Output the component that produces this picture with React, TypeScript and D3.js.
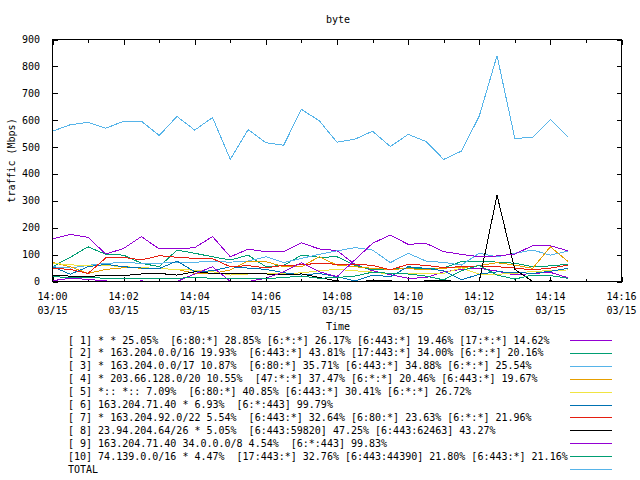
import React from "react";
import * as d3 from "d3";

const TITLE = "byte";
const Y_LABEL = "traffic (Mbps)";
const X_LABEL = "Time";
const DATE_LABEL = "03/15";

// minutes after 14:00
const TIMES = [0, 0.5, 1, 1.5, 2, 2.5, 3, 3.5, 4, 4.5, 5, 5.5, 6, 6.5, 7, 7.5, 8, 8.5, 9, 9.5, 10, 10.5, 11, 11.5, 12, 12.5, 13, 13.5, 14, 14.5];
const X_MAJOR = [0, 2, 4, 6, 8, 10, 12, 14, 16];
const X_MINOR = [1, 3, 5, 7, 9, 11, 13, 15];
const X_TICK_LABELS = ["14:00", "14:02", "14:04", "14:06", "14:08", "14:10", "14:12", "14:14", "14:16"];
const Y_TICKS = [0, 100, 200, 300, 400, 500, 600, 700, 800, 900];

const S1 = [158, 175, 164, 102, 123, 167, 121, 121, 126, 167, 92, 120, 111, 111, 144, 121, 115, 64, 40, 25, 12, 14, 36, 45, 49, 39, 24, 30, 34, 14];
const S2 = [55, 90, 129, 101, 98, 68, 55, 117, 105, 92, 80, 98, 55, 60, 98, 90, 92, 61, 43, 45, 51, 48, 50, 74, 76, 72, 68, 55, 58, 64];
const S3 = [55, 50, 60, 68, 70, 68, 68, 72, 72, 74, 72, 76, 92, 70, 86, 101, 114, 126, 117, 70, 105, 76, 71, 61, 105, 92, 105, 117, 98, 113];
const S4 = [71, 55, 30, 45, 51, 50, 48, 45, 30, 30, 43, 76, 74, 55, 55, 92, 61, 55, 49, 45, 48, 43, 50, 51, 59, 70, 61, 49, 129, 74];
const S5 = [68, 62, 59, 60, 55, 52, 48, 45, 42, 36, 24, 28, 30, 30, 32, 40, 45, 40, 35, 28, 30, 28, 30, 51, 27, 27, 30, 38, 40, 43];
const S6 = [55, 27, 55, 64, 55, 50, 48, 76, 36, 40, 55, 50, 45, 33, 24, 30, 18, 2, 24, 18, 55, 49, 40, 6, 27, 36, 34, 30, 38, 49];
const S7 = [49, 45, 30, 88, 90, 80, 96, 90, 86, 85, 55, 59, 51, 60, 62, 68, 64, 64, 60, 43, 64, 60, 52, 55, 58, 55, 50, 43, 50, 61];
const S8 = [24, 20, 18, 24, 22, 28, 30, 24, 36, 30, 28, 28, 28, 26, 28, 15, 2, 0, 3, 2, 0, 2, 3, 0, 0, 321, 45, 0, 2, 0];
const S9 = [3, 12, 8, 2, 0, 2, 0, 0, 28, 55, 0, 0, 12, 36, 70, 36, 18, 80, 142, 173, 138, 142, 111, 101, 92, 95, 102, 133, 133, 114];
const S10 = [18, 15, 15, 12, 10, 10, 12, 12, 15, 12, 10, 12, 10, 15, 20, 12, 15, 20, 35, 30, 28, 20, 6, 40, 60, 24, 9, 24, 22, 12];
const TOTAL = [559, 583, 592, 570, 596, 596, 543, 614, 563, 610, 454, 565, 516, 507, 640, 598, 518, 529, 559, 502, 547, 521, 454, 485, 615, 840, 532, 536, 603, 538];

const SERIES = [S1, S2, S3, S4, S5, S6, S7, S8, S9, S10, TOTAL];
const COLORS = ["#9400D3", "#009E73", "#56B4E9", "#E69F00", "#F0E442", "#0072B2", "#E51E10", "#000000", "#9400D3", "#009E73", "#56B4E9"];
const LEGEND = [
  "[ 1] * * 25.05%  [6:80:*] 28.85% [6:*:*] 26.17% [6:443:*] 19.46% [17:*:*] 14.62%",
  "[ 2] * 163.204.0.0/16 19.93%  [6:443:*] 43.81% [17:443:*] 34.00% [6:*:*] 20.16%",
  "[ 3] * 163.204.0.0/17 10.87%  [6:80:*] 35.71% [6:443:*] 34.88% [6:*:*] 25.54%",
  "[ 4] * 203.66.128.0/20 10.55%  [47:*:*] 37.47% [6:*:*] 20.46% [6:443:*] 19.67%",
  "[ 5] *:: *:: 7.09%  [6:80:*] 40.85% [6:443:*] 30.41% [6:*:*] 26.72%",
  "[ 6] 163.204.71.40 * 6.93%  [6:*:443] 99.79%",
  "[ 7] * 163.204.92.0/22 5.54%  [6:443:*] 32.64% [6:80:*] 23.63% [6:*:*] 21.96%",
  "[ 8] 23.94.204.64/26 * 5.05%  [6:443:59820] 47.25% [6:443:62463] 43.27%",
  "[ 9] 163.204.71.40 34.0.0.0/8 4.54%  [6:*:443] 99.83%",
  "[10] 74.139.0.0/16 * 4.47%  [17:443:*] 32.76% [6:443:44390] 21.80% [6:443:*] 21.16%",
  "TOTAL",
];

const FONT = "'DejaVu Sans Mono', monospace";

export default function App() {
  const W = 640, H = 480;
  const left = 52.5, right = 621.5, top = 39.5, bottom = 281.5;
  const x = d3.scaleLinear().domain([0, 16]).range([left, right]);
  const y = d3.scaleLinear().domain([0, 900]).range([bottom, top]);
  const line = d3.line<number>().x((_, i) => x(TIMES[i])).y((d) => y(d));

  return (
    <svg width={W} height={H} style={{ position: "absolute", left: 0, top: 0, background: "#fff" }}
      fontFamily={FONT} fontSize={10}>
      <rect x={0} y={0} width={W} height={H} fill="#fff" />
      <text x={338} y={23} textAnchor="middle">{TITLE}</text>
      {/* y ticks */}
      {Y_TICKS.map((t) => (
        <g key={"y" + t}>
          <line x1={left} x2={left + 5} y1={Math.round(y(t)) + 0.5} y2={Math.round(y(t)) + 0.5} stroke="#000" shapeRendering="crispEdges" />
          <line x1={right - 5} x2={right} y1={Math.round(y(t)) + 0.5} y2={Math.round(y(t)) + 0.5} stroke="#000" shapeRendering="crispEdges" />
          <text x={40} y={y(t) + 3.5} textAnchor="end">{t}</text>
        </g>
      ))}
      {/* x ticks */}
      {X_MAJOR.map((t, i) => (
        <g key={"xm" + t}>
          <line x1={Math.round(x(t)) + 0.5} x2={Math.round(x(t)) + 0.5} y1={bottom} y2={bottom - 5} stroke="#000" shapeRendering="crispEdges" />
          <line x1={Math.round(x(t)) + 0.5} x2={Math.round(x(t)) + 0.5} y1={top} y2={top + 5} stroke="#000" shapeRendering="crispEdges" />
          <text x={x(t)} y={300} textAnchor="middle">{X_TICK_LABELS[i]}</text>
          <text x={x(t)} y={314} textAnchor="middle">{DATE_LABEL}</text>
        </g>
      ))}
      {X_MINOR.map((t) => (
        <g key={"xn" + t}>
          <line x1={Math.round(x(t)) + 0.5} x2={Math.round(x(t)) + 0.5} y1={bottom} y2={bottom - 3} stroke="#000" shapeRendering="crispEdges" />
          <line x1={Math.round(x(t)) + 0.5} x2={Math.round(x(t)) + 0.5} y1={top} y2={top + 3} stroke="#000" shapeRendering="crispEdges" />
        </g>
      ))}
      <text x={338} y={330} textAnchor="middle">{X_LABEL}</text>
      <text transform={`translate(15,${(top + bottom) / 2}) rotate(-90)`} textAnchor="middle">{Y_LABEL}</text>
      {/* series */}
      {SERIES.map((s, k) => (
        <path key={"s" + k} d={line(s) || ""} fill="none" stroke={COLORS[k]} strokeWidth={1} shapeRendering="crispEdges" />
      ))}
      <rect x={left} y={top} width={right - left} height={bottom - top} fill="none" stroke="#000" shapeRendering="crispEdges" />
      {/* legend */}
      {LEGEND.map((lab, k) => {
        const cy = 340 + k * 12.9;
        return (
          <g key={"l" + k}>
            <text x={68} y={cy + 3.5} style={{ whiteSpace: "pre" }} xmlSpace="preserve">{lab}</text>
            <line x1={570} x2={612} y1={Math.round(cy) + 0.5} y2={Math.round(cy) + 0.5} stroke={COLORS[k]} shapeRendering="crispEdges" />
          </g>
        );
      })}
    </svg>
  );
}
